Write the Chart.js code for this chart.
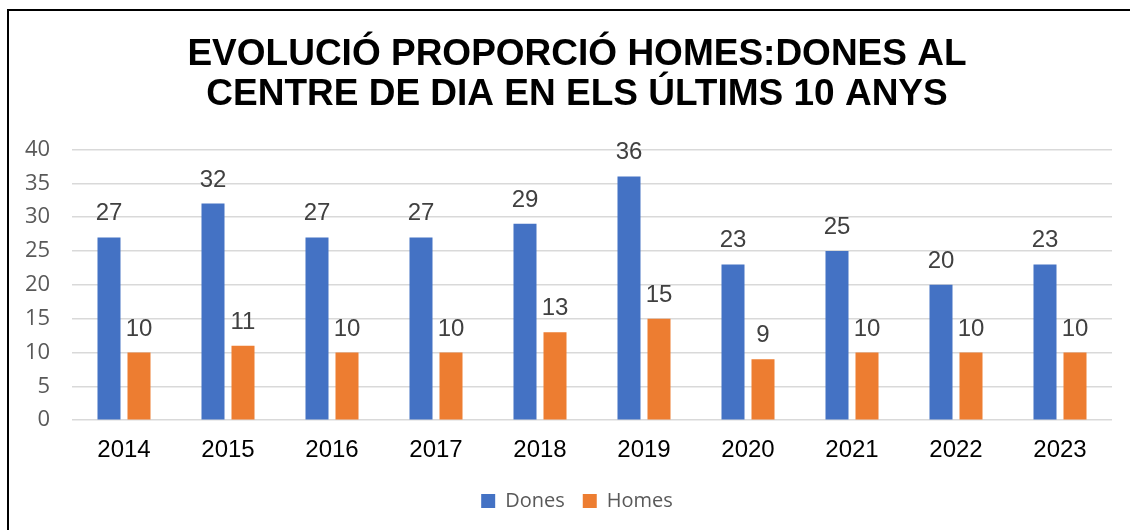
<!DOCTYPE html>
<html>
<head>
<meta charset="utf-8">
<script src="https://cdn.jsdelivr.net/npm/chart.js@4/dist/chart.umd.min.js"></script>
<style>
  html, body { margin: 0; padding: 0; background: #fff; }
  #wrap { position: absolute; left: 0; top: 0; width: 1130px; height: 530px; }
  #frame { position: absolute; left: 7px; top: 9px; width: 1130px; height: 530px;
           border-left: 2px solid #000; border-top: 2px solid #000; pointer-events: none; }
</style>
</head>
<body>
<div id="wrap"><canvas id="grafic"></canvas></div>
<div id="frame"></div>
<script>
// dades
var anys = ['2014', '2015', '2016', '2017', '2018', '2019', '2020', '2021', '2022', '2023'];
var dones = [27, 32, 27, 27, 29, 36, 23, 25, 20, 23];
var homes = [10, 11, 10, 10, 13, 15, 9, 10, 10, 10];
var titol = ['EVOLUCIÓ PROPORCIÓ HOMES:DONES AL', 'CENTRE DE DIA EN ELS ÚLTIMS 10 ANYS'];

// etiquetes de valor damunt de cada barra
var etiquetes = {
  id: 'etiquetes',
  afterDatasetsDraw: function (chart) {
    var ctx = chart.ctx;
    ctx.save();
    ctx.font = '24px "Liberation Sans", Arial, sans-serif';
    ctx.fillStyle = '#404040';
    ctx.textAlign = 'center';
    ctx.textBaseline = 'alphabetic';
    chart.data.datasets.forEach(function (ds, i) {
      chart.getDatasetMeta(i).data.forEach(function (bar, j) {
        ctx.fillText(ds.data[j], bar.x, bar.y - 17);
      });
    });
    ctx.restore();
  }
};

var ctx = document.getElementById('grafic');
var grafic = new Chart(ctx, {
  type: 'bar',
  data: {
    labels: anys,
    datasets: [
      { label: 'Dones', data: dones, backgroundColor: '#4472C4' },
      { label: 'Homes', data: homes, backgroundColor: '#ED7D31' }
    ]
  },
  plugins: [etiquetes],
  options: {
    responsive: true,
    maintainAspectRatio: false,
    animation: false,
    categoryPercentage: 0.577,
    barPercentage: 0.767,
    layout: {
      padding: { left: 42, right: 18, top: 0, bottom: 9 }
    },
    plugins: {
      title: {
        display: true,
        text: titol,
        color: '#000',
        font: { family: '"Liberation Sans", Arial, sans-serif', size: 37, weight: 'bold', lineHeight: 1.1 },
        padding: { top: 34, bottom: 34 }
      },
      legend: {
        position: 'bottom',
        labels: {
          boxWidth: 14,
          boxHeight: 14,
          padding: 18,
          color: '#595959',
          font: { family: '"Open Sans", sans-serif', size: 20 }
        }
      },
      tooltip: { enabled: false }
    },
    scales: {
      x: {
        grid: { display: false },
        border: { display: false },
        ticks: {
          color: '#000',
          padding: 8,
          font: { family: '"Liberation Sans", Arial, sans-serif', size: 24 }
        }
      },
      y: {
        min: 0,
        max: 40,
        border: { display: false },
        grid: { color: '#d9d9d9', lineWidth: 1.5, drawTicks: false },
        afterFit: function (scale) { scale.width = 30; },
        ticks: {
          stepSize: 5,
          color: '#595959',
          mirror: true,
          crossAlign: 'far',
          padding: -47,
          font: { family: '"Open Sans", sans-serif', size: 22 }
        }
      }
    }
  }
});
</script>
</body>
</html>
